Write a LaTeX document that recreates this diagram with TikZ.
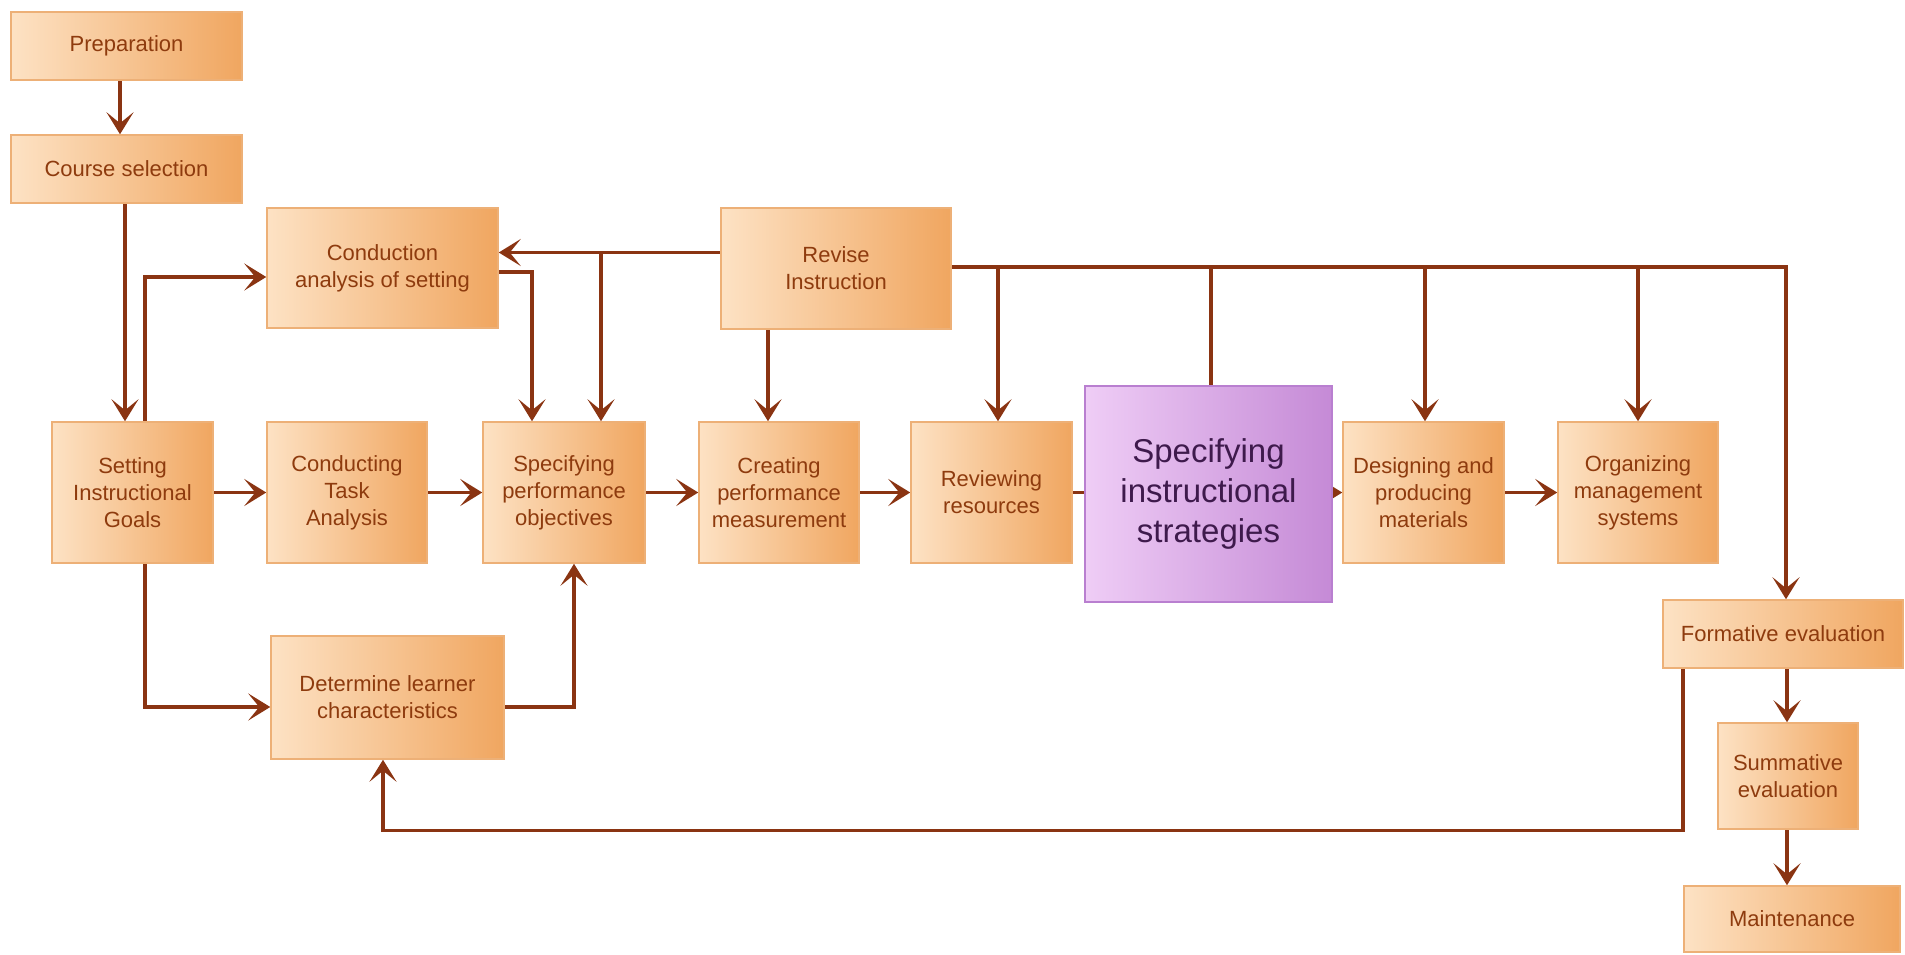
\documentclass[tikz,border=0pt]{standalone}
\usepackage{fontspec}
\setmainfont{Liberation Sans}
\usetikzlibrary{arrows.meta}
\pgfdeclarelayer{bg}
\pgfsetlayers{bg,main}
\definecolor{rust}{HTML}{8A3412}
\definecolor{boxtext}{HTML}{8E3B0E}
\definecolor{peachL}{HTML}{FDE2C4}
\definecolor{peachR}{HTML}{F0A660}
\definecolor{peachB}{HTML}{EDB077}
\definecolor{lilacL}{HTML}{EFCDF6}
\definecolor{lilacR}{HTML}{C58AD6}
\definecolor{lilacB}{HTML}{B97FD0}
\definecolor{plumtext}{HTML}{3E1A4C}

\begin{document}
\begin{tikzpicture}[x=1pt,y=-1pt,
  stage/.style={draw=peachB, line width=1.5pt, left color=peachL, right color=peachR,
    text=boxtext, align=center, font=\fontsize{22}{27}\selectfont, inner sep=0pt},
  focus/.style={draw=lilacB, line width=2pt, left color=lilacL, right color=lilacR,
    text=plumtext, align=center, font=\fontsize{33}{40}\selectfont, inner sep=0pt},
  flow/.style={draw=rust, line width=3.3pt, -{Stealth[length=22pt,width=27pt,inset=11pt]}},
  link/.style={draw=rust, line width=3.3pt}]

\useasboundingbox (0,0) rectangle (1905,954);

% ---- process steps ----
\node[stage, minimum width=231pt, minimum height=68pt]  (prep)    at (126.5,46)   {Preparation};
\node[stage, minimum width=231pt, minimum height=68pt]  (course)  at (126.5,169)  {Course selection};
\node[stage, minimum width=231pt, minimum height=120pt] (cas)     at (382.5,268)  {Conduction\\analysis of setting};
\node[stage, minimum width=230pt, minimum height=121pt] (revise)  at (836,268.5)  {Revise\\Instruction};
\node[stage, minimum width=161pt, minimum height=141pt] (goals)   at (132.5,492.5) {Setting\\Instructional\\Goals};
\node[stage, minimum width=160pt, minimum height=141pt] (task)    at (347,492.5)  {Conducting\\Task\\Analysis};
\node[stage, minimum width=162pt, minimum height=141pt] (perf)    at (564,492.5)  {Specifying\\performance\\objectives};
\node[stage, minimum width=160pt, minimum height=141pt] (meas)    at (779,492.5)  {Creating\\performance\\measurement};
\node[stage, minimum width=161pt, minimum height=141pt] (rev)     at (991.5,492.5) {Reviewing\\resources};
\node[focus, minimum width=247pt, minimum height=216pt] (strat)   at (1208.5,494) {Specifying\\instructional\\strategies};
\node[stage, minimum width=161pt, minimum height=141pt] (design)  at (1423.5,492.5) {Designing and\\producing\\materials};
\node[stage, minimum width=160pt, minimum height=141pt] (org)     at (1638,492.5) {Organizing\\management\\systems};
\node[stage, minimum width=233pt, minimum height=123pt] (learner) at (387.5,697.5) {Determine learner\\characteristics};
\node[stage, minimum width=240pt, minimum height=68pt]  (form)    at (1783,634)   {Formative evaluation};
\node[stage, minimum width=140pt, minimum height=106pt] (summ)    at (1788,776)   {Summative\\evaluation};
\node[stage, minimum width=216pt, minimum height=66pt]  (maint)   at (1792,919)   {Maintenance};

% ---- connectors ----
\begin{pgfonlayer}{bg}
\fill[white] (0,0) rectangle (1905,954);

\draw[flow] ([xshift=-6.5pt]prep.south) -- ([xshift=-6.5pt]course.north);
\draw[flow] ([xshift=-1.5pt]course.south) -- ([xshift=-7.5pt]goals.north);
\draw[flow] ([xshift=12.5pt]goals.north) |- ([yshift=-9pt]cas.west);
\draw[flow] ([xshift=12.5pt]goals.south) |- ([yshift=-9.5pt]learner.west);
\draw[flow] ([yshift=-9.5pt]learner.east) -| ([xshift=10pt]perf.south);

\draw[flow] (goals.east) -- (task.west);
\draw[flow] (task.east) -- (perf.west);
\draw[flow] (perf.east) -- (meas.west);
\draw[flow] (meas.east) -- (rev.west);
\draw[link] (rev.east) -- (rev.east -| strat.west);
\draw[flow] (design.west -| strat.east) -- (design.west);
\draw[flow] (design.east) -- (org.west);

\draw[flow] ([yshift=-4pt]cas.east) -| ([xshift=-32pt]perf.north);

% revision feedback to the left
\coordinate (rl) at ([yshift=16pt]revise.west);
\draw[flow] (rl) -- (rl -| cas.east);
\draw[flow] ([xshift=37pt]perf.north |- rl) -- ([xshift=37pt]perf.north);
\draw[flow] ([xshift=-68pt]revise.south) -- ([xshift=-68pt]revise.south |- meas.north);

% revision bus to the right
\coordinate (bus) at ([yshift=1.5pt]revise.east);
\draw[flow] (bus) -| ([xshift=3pt]form.north);
\draw[flow] ([xshift=6.5pt]rev.north |- bus) -- ([xshift=6.5pt]rev.north);
\draw[link] ([xshift=2.5pt]strat.north |- bus) -- ([xshift=2.5pt]strat.north);
\draw[flow] ([xshift=1.5pt]design.north |- bus) -- ([xshift=1.5pt]design.north);
\draw[flow] (org.north |- bus) -- (org.north);

% evaluation
\draw[flow] ([xshift=4pt]form.south) -- ([xshift=4pt]form.south |- summ.north);
\draw[flow] ([xshift=-1pt]summ.south) -- ([xshift=-1pt]summ.south |- maint.north);
\draw[flow] ([xshift=-100pt]form.south) -- ++(0,162) -| ([xshift=-4.5pt]learner.south);
\end{pgfonlayer}
\end{tikzpicture}
\end{document}
